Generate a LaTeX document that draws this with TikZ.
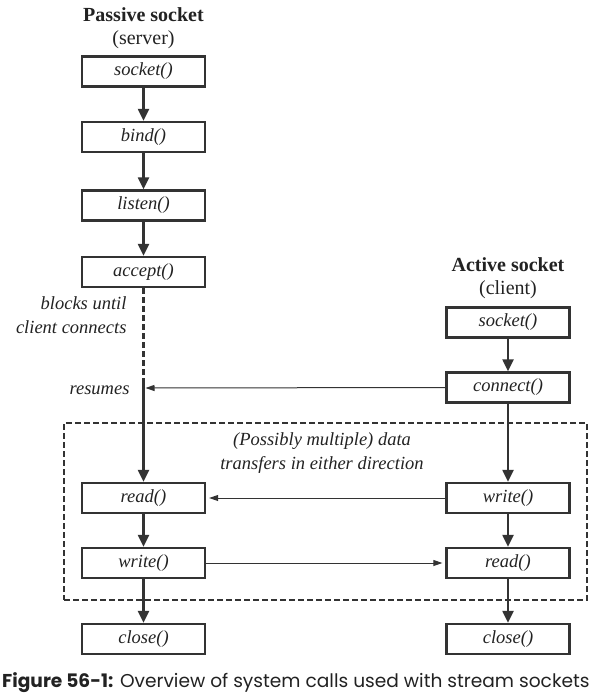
\documentclass[tikz,border=0pt]{standalone}
\usepackage{fontspec}
\setmainfont{Liberation Serif}
\newfontfamily\capfont{Poppins}
\usetikzlibrary{arrows.meta}
\definecolor{ln}{HTML}{333333}
\definecolor{tx}{HTML}{222222}
\begin{document}
\begin{tikzpicture}[x=1pt,y=-1pt,
  call/.style={draw=ln,line width=2.3pt,minimum width=123pt,minimum height=30pt,inner sep=0pt,font=\fontsize{18.5}{20}\selectfont\itshape,text=tx},
  flow/.style={draw=ln,line width=2.2pt,-{Triangle[length=12pt,width=11pt]}},
  xfer/.style={draw=ln,line width=1pt,-{Triangle[length=9pt,width=6pt]}},
  head/.style={font=\fontsize{20}{22}\selectfont\bfseries,text=tx},
  sub/.style={font=\fontsize{20}{22}\selectfont,text=tx},
  note/.style={font=\fontsize{18.5}{24}\selectfont\itshape,text=tx}]
\useasboundingbox (0,0) rectangle (596,700);
% headings
\node[head] (ph) at (143.5,15) {Passive socket};
\node[sub] (ps) at (143.5,40) {(server)};
\node[head] (ah) at (508,265) {Active socket};
\node[sub] (as) at (508,290) {(client)};
% server boxes
\node[call] (lsock) at (143.5,71.5) {socket()};
\node[call] (lbind) at (143.5,137) {bind()};
\node[call] (llist) at (143.5,205.5) {listen()};
\node[call] (lacc) at (143.5,272) {accept()};
\node[call] (lread) at (143.5,498) {read()};
\node[call] (lwrite) at (143.5,563) {write()};
\node[call] (lclose) at (143.5,639) {close()};
% client boxes
\node[call] (rsock) at (508,322.5) {socket()};
\node[call] (rconn) at (508,387.5) {connect()};
\node[call] (rwrite) at (508,498) {write()};
\node[call] (rread) at (508,563) {read()};
\node[call] (rclose) at (508,639) {close()};
% dashed region
\node[draw=ln,dash pattern=on 6pt off 3pt,line width=1.7pt,minimum width=523pt,minimum height=177pt,inner sep=0pt] (region) at (325.5,511.5) {};
\node[note,align=center] (ptext) at (322,453) {(Possibly multiple) data\\transfers in either direction};
% notes
\node[note,align=right,anchor=east] (blk) at (130,315) {blocks until\\client connects};
\node[note,anchor=east] (res) at (133,390) {resumes};
% server flow
\draw[flow] (lsock) -- (lbind);
\draw[flow] (lbind) -- (llist);
\draw[flow] (llist) -- (lacc);
\coordinate (wait) at (143.5,382);
\coordinate (resume) at (143.5,388);
\draw[draw=ln,line width=2.2pt,dash pattern=on 6pt off 3pt] (lacc.south) -- (wait);
\draw[flow] (wait) -- (lread.north);
\draw[flow] (lread) -- (lwrite);
\draw[flow] (lwrite) -- (lclose);
% client flow
\draw[flow] (rsock) -- (rconn);
\draw[flow] (rconn) -- (rwrite);
\draw[flow] (rwrite) -- (rread);
\draw[flow] (rread) -- (rclose);
% transfers
\draw[xfer] (rconn.west) -- ([xshift=2pt]resume);
\draw[xfer] (rwrite.west) -- ([xshift=3pt]lread.east);
\draw[xfer] (lwrite.east) -- ([xshift=-3pt]rread.west);
% caption
\node[anchor=west,inner sep=0pt,text=tx] (cap) at (2,683) {\capfont\fontsize{18.6}{22}\selectfont\textbf{Figure 56-1:} Overview of system calls used with stream sockets};
\end{tikzpicture}
\end{document}
